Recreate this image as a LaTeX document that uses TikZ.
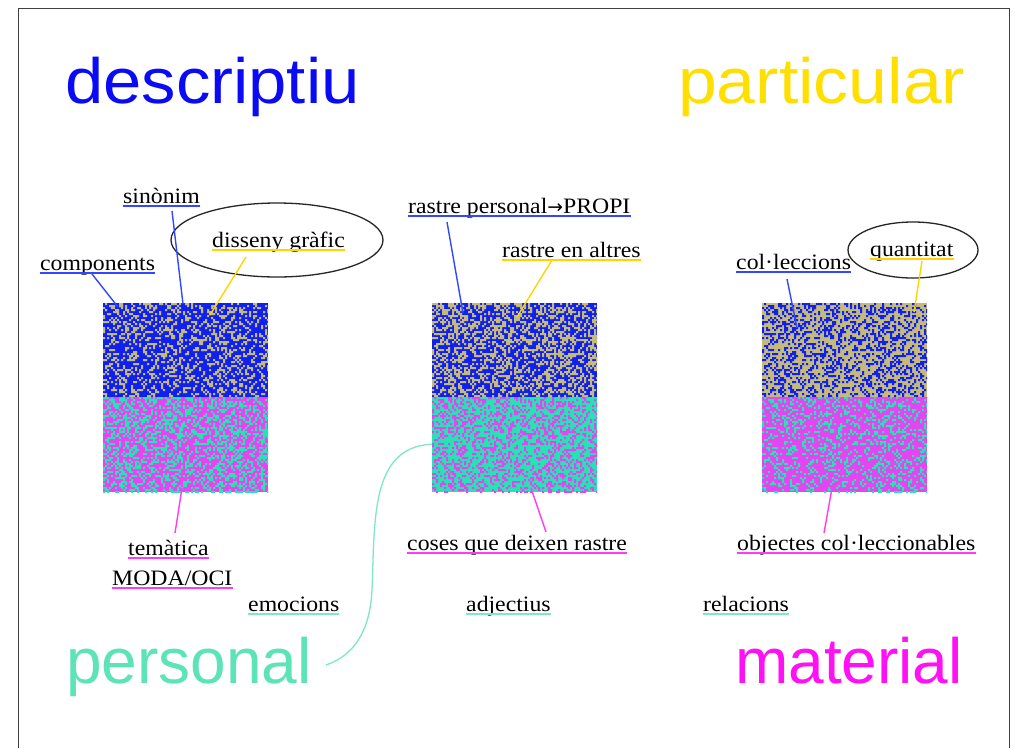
\documentclass[tikz,border=0pt]{standalone}
\usepackage{fontspec}
\usepackage{graphicx}
\setmainfont{Liberation Serif}[FakeStretch=1.08]
\newfontfamily\titlefont{Liberation Sans}
\newfontfamily\arrowfont{DejaVu Sans}[Scale=0.85]
\usetikzlibrary{shapes.geometric}
\definecolor{tblue}{HTML}{0A0AF5}
\definecolor{tyellow}{HTML}{FFDF00}
\definecolor{tmag}{HTML}{FF10F5}
\definecolor{tteal}{HTML}{5CE3B6}
\definecolor{ublue}{HTML}{3048FF}
\definecolor{uyellow}{HTML}{FFD500}
\definecolor{umag}{HTML}{FF3CF5}
\definecolor{uteal}{HTML}{7FE6C6}
\definecolor{nblue}{HTML}{1020EE}
\definecolor{nkhaki}{HTML}{C4BA7C}
\definecolor{nmag}{HTML}{E445F0}
\definecolor{nteal}{HTML}{26E2B4}
\colorlet{mixBK}{nblue!50!nkhaki}
\colorlet{mixBKl}{nblue!35!nkhaki}
\colorlet{mixMT}{nmag!50!nteal}
\newcount\nzK \newcount\nzI \newcount\nzJ \newcount\nzTot
\newcount\nzS \newcount\nzT \newcount\nzU \newcount\nzThr
\newdimen\nzX \newdimen\nzY
\nzS=20240611
% Park-Miller minimal standard generator (Schrage's method)
\def\nznext{\nzT=\nzS \divide\nzT by 127773
  \nzU=\nzT \multiply\nzU by -127773 \advance\nzU by \nzS
  \multiply\nzU by 16807
  \multiply\nzT by 2836
  \nzS=\nzU \advance\nzS by -\nzT
  \ifnum\nzS<1 \advance\nzS by 2147483647 \fi}
\newcommand\nzrects[5]{% x0 y0 nx ny prob : add random 2x2 cells to the current path
  \nzX=#5pt \nzThr=\nzX \multiply\nzThr by 32768
  \nzK=0 \nzTot=#3 \multiply\nzTot by #4
  \loop
    \nznext
    \ifnum\nzS<\nzThr
      \nzJ=\nzK \divide\nzJ by #3
      \nzI=\nzJ \multiply\nzI by -#3 \advance\nzI by \nzK
      \nzX=\the\nzI pt \multiply\nzX by 2 \advance\nzX by #1pt
      \nzY=\the\nzJ pt \multiply\nzY by 2 \advance\nzY by #2pt
      \pgfpathrectangle{\pgfqpoint{\nzX}{-\nzY}}{\pgfqpoint{2pt}{-2pt}}%
    \fi
    \advance\nzK by 1
  \ifnum\nzK<\nzTot\repeat}
\newcommand\mynoise[8]{%
  \begin{scope}
  \clip (#1,#2) rectangle ++(#3,#4);
  \fill[#5] (#1,#2) rectangle ++(#3,#4);
  \pgfmathtruncatemacro\noiseNX{#3/2+1}%
  \pgfmathtruncatemacro\noiseNY{#4/2+1}%
  \begin{pgfscope}\pgfsetfillcolor{#8}\nzrects{#1}{#2}{\noiseNX}{\noiseNY}{0.15}\pgfusepath{fill}\end{pgfscope}
  \begin{pgfscope}\pgfsetfillcolor{#6}\nzrects{#1}{#2}{\noiseNX}{\noiseNY}{#7}\pgfusepath{fill}\end{pgfscope}
  \end{scope}}
\newcommand\uline[2]{\draw[ul,#1] ([yshift=-3pt]#2.base west) -- ([yshift=-3pt]#2.base east);}
\begin{document}
\begin{tikzpicture}[x=1pt,y=-1pt,
  lab/.style={inner sep=0pt, anchor=base west, font=\fontsize{22}{26}\selectfont},
  ttl/.style={inner sep=0pt, anchor=base west, font=\titlefont\fontsize{64}{70}\selectfont},
  ul/.style={line width=2pt},
  conn/.style={line width=1.4pt},
  bubble/.style={draw=black!85, line width=1.3pt, ellipse, inner sep=0pt},
  halfbox/.style={inner sep=0pt, minimum width=165pt, minimum height=94pt, anchor=north west}]
\useasboundingbox (0,0) rectangle (1015,748);
\fill[white] (0,0) rectangle (1015,748);
% frame
\draw[black!75, line width=1pt] (18,748) -- (18,8) -- (1009,8) -- (1009,748);
% titles
\node[ttl, text=tblue] (tdesc) at (65,103) {\scalebox{1.075}[1]{descriptiu}};
\node[ttl, text=tyellow] (tpart) at (678,103) {\scalebox{1.09}[1]{particular}};
\node[ttl, text=tteal] (tpers) at (66,683) {personal};
\node[ttl, text=tmag] (tmat) at (735,683) {material};
% noise boxes
\mynoise{103}{303}{165}{94}{nblue}{nkhaki}{0.32}{mixBK}
\mynoise{103}{397}{165}{95}{nmag}{nteal}{0.42}{mixMT}
\mynoise{432}{303}{165}{94}{nblue}{nkhaki}{0.44}{mixBK}
\mynoise{432}{397}{165}{95}{nteal}{nmag}{0.34}{mixMT}
\mynoise{762}{303}{165}{94}{nkhaki}{nblue}{0.36}{mixBKl}
\mynoise{762}{397}{165}{95}{nmag}{nteal}{0.27}{mixMT}
\node[halfbox] (b1top) at (103,303) {};
\node[halfbox] (b1bot) at (103,397) {};
\node[halfbox] (b2top) at (432,303) {};
\node[halfbox] (b2bot) at (432,397) {};
\node[halfbox] (b3top) at (762,303) {};
\node[halfbox] (b3bot) at (762,397) {};
% ellipses
\node[bubble, minimum width=212pt, minimum height=74pt] (ell1) at (277,240) {};
\node[bubble, minimum width=130pt, minimum height=56pt] (ell2) at (913,250) {};
% labels
\node[lab] (sin) at (123,203) {sinònim};
\node[lab] (comp) at (40,270) {components};
\node[lab] (dis) at (212,247) {disseny gràfic};
\node[lab] (rp) at (408,213) {rastre personal{\arrowfont →}PROPI};
\node[lab] (ra) at (502,257) {rastre en altres};
\node[lab] (col) at (736,269) {col·leccions};
\node[lab] (qua) at (870,256) {quantitat};
\node[lab] (tem) at (128,555) {temàtica};
\node[lab] (moda) at (112,585) {MODA/OCI};
\node[lab] (coses) at (407,550) {coses que deixen rastre};
\node[lab] (obj) at (737,550) {objectes col·leccionables};
\node[lab] (emo) at (248,611) {emocions};
\node[lab] (adj) at (466,611) {adjectius};
\node[lab] (rel) at (703,611) {relacions};
% underlines
\uline{ublue}{sin}
\uline{ublue}{comp}
\uline{uyellow}{dis}
\uline{ublue}{rp}
\uline{uyellow}{ra}
\uline{ublue}{col}
\uline{uyellow}{qua}
\uline{umag}{tem}
\uline{umag}{moda}
\uline{umag}{coses}
\uline{umag}{obj}
\uline{uteal}{emo}
\uline{uteal}{adj}
\uline{uteal}{rel}
% connector end points
\coordinate (compS) at (92,274);  \coordinate (compE) at (118,307);
\coordinate (sinS) at (172,211);  \coordinate (sinE) at (183,304);
\coordinate (disS) at (246,257);  \coordinate (disE) at (210,315);
\coordinate (rpS) at (447,222);   \coordinate (rpE) at (463,313);
\coordinate (raS) at (552,260);   \coordinate (raE) at (517,317);
\coordinate (colS) at (787,279);  \coordinate (colE) at (797,328);
\coordinate (quaS) at (922,261);  \coordinate (quaE) at (914,312);
\coordinate (m1S) at (182,488);   \coordinate (m1E) at (175,533);
\coordinate (m2S) at (531,488);   \coordinate (m2E) at (546,532);
\coordinate (m3S) at (832,488);   \coordinate (m3E) at (824,533);
\coordinate (persS) at (326,665);
% connectors
\draw[conn, ublue] (compS) -- (compE);
\draw[conn, ublue] (sinS) -- (sinE);
\draw[conn, uyellow] (disS) -- (disE);
\draw[conn, ublue] (rpS) -- (rpE);
\draw[conn, uyellow] (raS) -- (raE);
\draw[conn, ublue] (colS) -- (colE);
\draw[conn, uyellow] (quaS) -- (quaE);
\draw[conn, umag] (m1S) -- (m1E);
\draw[conn, umag] (m2S) -- (m2E);
\draw[conn, umag] (m3S) -- (m3E);
\draw[line width=1.3pt, uteal] (persS) .. controls (355,655) and (370,630) .. (372,590)
  .. controls (375,520) and (370,447) .. (b2bot.west);
\end{tikzpicture}
\end{document}
